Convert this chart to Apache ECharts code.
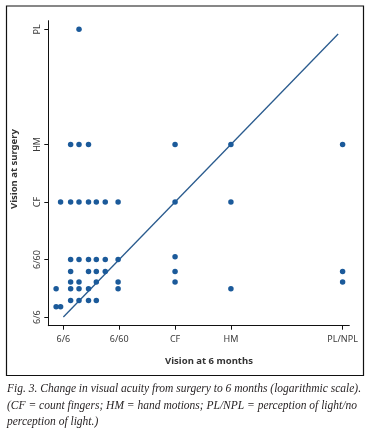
<!DOCTYPE html>
<html>
<head>
<meta charset="utf-8">
<script src="https://cdn.jsdelivr.net/npm/echarts@6/dist/echarts.min.js"></script>
<style>
html,body{margin:0;padding:0;background:#fff;}
#c{width:368px;height:437px;}
</style>
</head>
<body>
<div id="c"></div>
<script>
// Tick positions (logarithmic acuity scale) and labels
var xTickValues = [0, 1, 2, 3, 5];
var xTickLabels = ['6/6', '6/60', 'CF', 'HM', 'PL/NPL'];
var yTickValues = [0, 1, 2, 3, 5];
var yTickLabels = ['6/6', '6/60', 'CF', 'HM', 'PL'];

// Patients: vision at 6 months (x) vs vision at surgery (y)
var pointsX = [
  0.13, 0.28, 0.45, 0.59, 0.75, 0.98,
  2.0,
  0.13, 0.45, 0.59, 0.75, 2.0, 5.0,
  0.13, 0.28, 0.59, 0.98, 2.0, 5.0,
  -0.13, 0.13, 0.28, 0.45, 0.98, 3.0,
  0.13, 0.28, 0.45, 0.59,
  -0.13, -0.05,
  -0.05, 0.13, 0.28, 0.45, 0.59, 0.75, 0.98, 2.0, 3.0,
  0.13, 0.28, 0.45, 2.0, 3.0, 5.0,
  0.28
];
var pointsY = [
  1.0, 1.0, 1.0, 1.0, 1.0, 1.0,
  1.05,
  0.79, 0.79, 0.79, 0.79, 0.79, 0.79,
  0.61, 0.61, 0.61, 0.61, 0.61, 0.61,
  0.49, 0.49, 0.49, 0.49, 0.49, 0.49,
  0.29, 0.29, 0.29, 0.29,
  0.18, 0.18,
  2.0, 2.0, 2.0, 2.0, 2.0, 2.0, 2.0, 2.0, 2.0,
  3.0, 3.0, 3.0, 3.0, 3.0, 3.0,
  5.0
];

// Line of no change
var lineX = [0, 4.92];
var lineY = [0, 4.92];

var xTitle = 'Vision at 6 months';
var yTitle = 'Vision at surgery';
var captionLines = [
  'Fig. 3. Change in visual acuity from surgery to 6 months (logarithmic scale).',
  '(CF = count fingers; HM = hand motions; PL/NPL = perception of light/no',
  'perception of light.)'
];

var scatterData = pointsX.map(function (x, i) { return [x, pointsY[i]]; });
var lineData = lineX.map(function (x, i) { return [x, lineY[i]]; });

function labelFor(values, labels) {
  return function (v) {
    for (var i = 0; i < values.length; i++) {
      if (Math.abs(values[i] - v) < 1e-6) return labels[i];
    }
    return '';
  };
}

var dotColor = '#1b5a9a';
var labelFont = 'Noto Sans';

var chart = echarts.init(document.getElementById('c'), null, {renderer: 'canvas'});
chart.setOption({
  animation: false,
  backgroundColor: '#ffffff',
  grid: {left: 48.3, right: 18.7, top: 20.7, bottom: 111.3, containLabel: false},
  xAxis: {
    type: 'value', min: -0.27, max: 5.12,
    splitLine: {show: false},
    axisLine: {show: true, onZero: false, lineStyle: {color: '#111', width: 1}},
    axisTick: {show: true, customValues: xTickValues, length: 4, lineStyle: {color: '#111', width: 1}},
    axisLabel: {customValues: xTickValues, formatter: labelFor(xTickValues, xTickLabels),
      margin: 9, fontSize: 9, fontFamily: labelFont, color: '#3a3a3a'}
  },
  yAxis: {
    type: 'value', min: -0.15, max: 5.15,
    splitLine: {show: false},
    axisLine: {show: true, onZero: false, lineStyle: {color: '#111', width: 1}},
    axisTick: {show: true, customValues: yTickValues, length: 4, lineStyle: {color: '#111', width: 1}},
    axisLabel: {customValues: yTickValues, formatter: labelFor(yTickValues, yTickLabels),
      rotate: 90, margin: 6, fontSize: 9, fontFamily: labelFont, color: '#3a3a3a'}
  },
  series: [
    {
      type: 'line', data: lineData, symbol: 'none', silent: true,
      lineStyle: {color: '#2a5b8e', width: 1.3}, z: 2
    },
    {
      type: 'scatter', data: scatterData, symbol: 'circle', symbolSize: 5.5,
      itemStyle: {color: dotColor, opacity: 1}, z: 3
    }
  ],
  graphic: [
    {type: 'rect', shape: {x: 6.5, y: 6, width: 357, height: 369.5},
      style: {fill: null, stroke: '#111', lineWidth: 1.2}, z: -1, silent: true},
    {type: 'text', x: 209, y: 361, style: {text: xTitle, fontFamily: labelFont, fontSize: 9.5, fontWeight: 'bold',
      fill: '#333', textAlign: 'center', textVerticalAlign: 'middle'}},
    {type: 'text', x: 14, y: 169, rotation: Math.PI / 2, style: {text: yTitle, fontFamily: labelFont, fontSize: 9.5, fontWeight: 'bold',
      fill: '#333', textAlign: 'center', textVerticalAlign: 'middle'}},
    {type: 'text', x: 7, y: 389, style: {text: captionLines[0], fontFamily: 'Liberation Serif', fontStyle: 'italic', fontSize: 11.5,
      fill: '#231f20', textAlign: 'left', textVerticalAlign: 'middle'}},
    {type: 'text', x: 7, y: 405.5, style: {text: captionLines[1], fontFamily: 'Liberation Serif', fontStyle: 'italic', fontSize: 11.5,
      fill: '#231f20', textAlign: 'left', textVerticalAlign: 'middle'}},
    {type: 'text', x: 7, y: 421.5, style: {text: captionLines[2], fontFamily: 'Liberation Serif', fontStyle: 'italic', fontSize: 11.5,
      fill: '#231f20', textAlign: 'left', textVerticalAlign: 'middle'}}
  ]
});
</script>
</body>
</html>
